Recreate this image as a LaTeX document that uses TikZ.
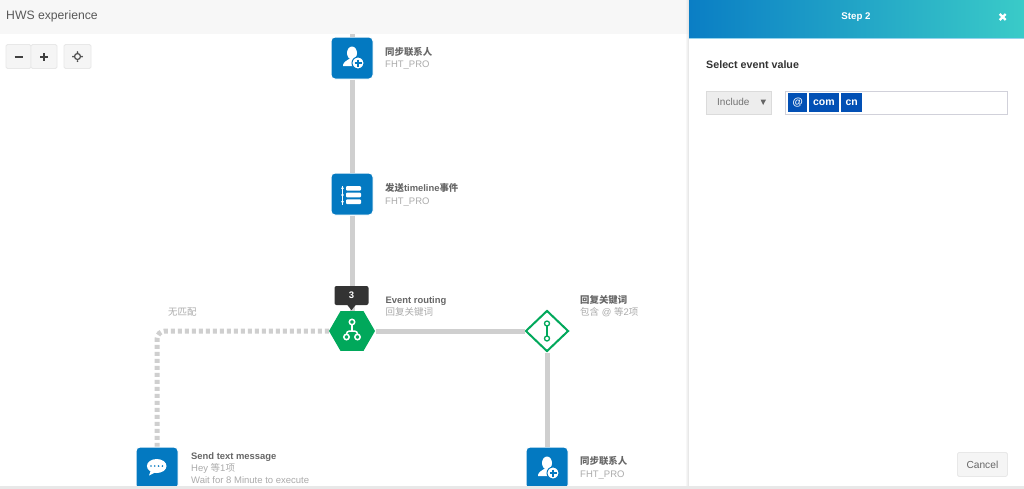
\documentclass[tikz,border=0pt]{standalone}
\usepackage{fontspec}
\setmainfont{Liberation Sans}
\newfontfamily\cjk{Noto Sans CJK SC}
\usetikzlibrary{shapes.geometric}
\definecolor{flowblue}{HTML}{0379C1}
\definecolor{flowgreen}{HTML}{01A85B}
\definecolor{linegray}{HTML}{CFCFCF}
\definecolor{titlegray}{HTML}{666666}
\definecolor{subgray}{HTML}{ABABAB}
\definecolor{tagblue}{HTML}{0250B5}
\definecolor{btnfill}{HTML}{F5F5F5}
\definecolor{btnline}{HTML}{E8E8E8}
\definecolor{headleft}{HTML}{0A7EC5}
\definecolor{headmid}{HTML}{29A6DC}
\definecolor{headright}{HTML}{3ACBC8}
\tikzset{
	pics/userplus/.style={code={
		\fill[white] (0,-5) ellipse (5pt and 6.5pt);
		\fill[white] (-9,7) .. controls (-8,3) and (-5,3) .. (-3,1) -- (3,1) .. controls (4,3) and (5,3) .. (6,5) -- (1,8) -- (-9,8) -- cycle;
		\fill[white,draw=flowblue,line width=1pt] (6,5) circle (6pt);
		\draw[flowblue,line width=1.4pt] (2.5,5) -- (9.5,5) (6,1.5) -- (6,8.5);
	}},
	pics/eventlist/.style={code={
		\foreach \rowy in {-5.7,1,7.7} {
			\fill[white,rounded corners=1pt] (-6,\rowy-2.3) rectangle (9,\rowy+2.3);
			\fill[white] (-9.5,\rowy) circle (1.4pt);
		}
		\draw[white,line width=0.7pt] (-9.5,-8) -- (-9.5,11);
	}},
	pics/chatbubble/.style={code={
		\fill[white] (-0.3,-2) ellipse (9.8pt and 7pt);
		\fill[white] (-6,2) -- (-8,7.5) -- (-1,4) -- cycle;
		\foreach \dotx in {-6,-2.2,1.6,5.4} \fill[flowblue] (\dotx,-2) circle (0.9pt);
	}},
	pics/branchtree/.style={code={
		\draw[white,line width=1.5pt,rounded corners=3pt] (-5.5,3.5) -- (-5.5,0) -- (5.5,0) -- (5.5,3.5);
		\draw[white,line width=1.5pt] (0,-6.2) -- (0,0);
		\draw[white,line width=1.5pt] (0,-9) circle (2.7pt) (-5.5,6) circle (2.7pt) (5.5,6) circle (2.7pt);
	}},
	pics/branchcase/.style={code={
		\draw[flowgreen,line width=1.3pt] (0,-5) -- (0,5);
		\draw[flowgreen,line width=1.3pt,fill=white] (0,-7.5) circle (2.5pt) (0,7.5) circle (2.5pt);
	}}
}
\begin{document}
\begin{tikzpicture}
		[x=1pt,y=-1pt,
		actionbox/.style={fill=flowblue,draw=white,line width=1pt,rounded corners=4pt,minimum size=42pt,inner sep=0pt},
		flowline/.style={draw=linegray,line width=5pt},
		dotline/.style={draw=linegray,line width=5pt,dash pattern=on 4pt off 3pt,rounded corners=8pt},
		titletext/.style={anchor=base west,inner sep=0pt,text=titlegray,font=\bfseries\fontsize{9.4}{11}\selectfont},
		subtext/.style={anchor=base west,inner sep=0pt,text=subgray,font=\fontsize{9.5}{11}\selectfont},
		greybtn/.style={fill=btnfill,draw=btnline,line width=0.8pt,rounded corners=1.5pt,inner sep=0pt,text=titlegray},
		tagbox/.style={fill=tagblue,text=white,inner sep=0pt,minimum height=19pt,font=\bfseries\fontsize{10.5}{12}\selectfont}]
		\useasboundingbox (0,0) rectangle (1024,488);
		\fill[white] (0,0) rectangle (1024,488);
		\fill[black!3] (0,0) rectangle (689,34);
		\node[anchor=base west,inner sep=0pt,text=black!65,font=\fontsize{12.2}{14}\selectfont] (flowname) at (6,19.5) {HWS experience};
		\node[greybtn,minimum width=25pt,minimum height=24pt] (zoomout) at (18.5,56.5) {};
		\node[greybtn,minimum width=26pt,minimum height=24pt] (zoomin) at (44,56.5) {};
		\node[greybtn,minimum width=27pt,minimum height=24pt] (recenter) at (77.5,56.5) {};
		\draw[black!75,line width=2pt] ([xshift=-4pt]zoomout.center) -- ([xshift=4pt]zoomout.center);
		\draw[black!75,line width=2pt] ([xshift=-4pt]zoomin.center) -- ([xshift=4pt]zoomin.center) ([yshift=-4pt]zoomin.center) -- ([yshift=4pt]zoomin.center);
		\draw[black!70,line width=1.2pt] (recenter.center) circle (3pt);
		\foreach \tickang in {0,90,180,270} \fill[black!70] (recenter.center) ++(\tickang:4.5pt) circle (1pt);

		\node[actionbox] (syncone) at (352,58) {};
		\node[actionbox] (timeline) at (352,194) {};
		\node[regular polygon,regular polygon sides=6,fill=flowgreen,minimum size=46pt,inner sep=0pt] (routing) at (352,331) {};
		\node[diamond,aspect=1,fill=white,draw=flowgreen,line width=2pt,minimum width=43pt,minimum height=41pt,inner sep=0pt] (keyword) at (547,331) {};
		\node[actionbox] (sendmsg) at (157,468) {};
		\node[actionbox] (synctwo) at (547,468) {};
		\coordinate (topstub) at (352,34);

		\draw[flowline] (topstub) -- (syncone);
		\draw[flowline] (syncone) -- (timeline);
		\draw[flowline] (timeline) -- (routing);
		\draw[flowline] ([xshift=1pt]routing.east) -- (keyword);
		\draw[flowline] (keyword) -- (synctwo);
		\draw[dotline] (routing.west) -| (sendmsg.north);

		\pic at (syncone) {userplus};
		\pic at (timeline) {eventlist};
		\pic at (routing) {branchtree};
		\pic at (keyword) {branchcase};
		\pic at (sendmsg) {chatbubble};
		\pic at (synctwo) {userplus};

		\node[fill=black!80,rounded corners=2pt,minimum width=34pt,minimum height=19pt,inner sep=0pt,text=white,font=\bfseries\fontsize{9.5}{11}\selectfont] (hitcount) at (351.5,295.5) {3};
		\fill[black!80] ([xshift=-4pt]hitcount.south) -- ([xshift=4pt]hitcount.south) -- ([yshift=-5pt]hitcount.south) -- cycle;

		\node[titletext] (synconetitle) at (385,55.5) {\cjk 同步联系人};
		\node[subtext] (synconesub) at (385,67) {FHT\_PRO};
		\node[titletext] (timelinetitle) at (385,191.5) {{\cjk 发送}timeline{\cjk 事件}};
		\node[subtext] (timelinesub) at (385,204) {FHT\_PRO};
		\node[titletext] (routingtitle) at (385.5,303) {Event routing};
		\node[subtext] (routingsub) at (385.5,315.5) {\cjk 回复关键词};
		\node[titletext] (keywordtitle) at (580,303) {\cjk 回复关键词};
		\node[subtext] (keywordsub) at (580,315.5) {{\cjk 包含} @ {\cjk 等}2{\cjk 项}};
		\node[subtext] (nomatch) at (168,315.5) {\cjk 无匹配};
		\node[titletext] (sendmsgtitle) at (191,459) {Send text message};
		\node[subtext] (sendmsgsub) at (191,471) {Hey {\cjk 等}1{\cjk 项}};
		\node[subtext] (sendmsgwait) at (191,483) {Wait for 8 Minute to execute};
		\node[titletext] (synctwotitle) at (580,464.5) {\cjk 同步联系人};
		\node[subtext] (synctwosub) at (580,477.5) {FHT\_PRO};

		\shade[left color=black!3,right color=black!12] (685,0) rectangle (689,34);
		\shade[left color=white,right color=black!12] (685,34) rectangle (689,486);
		\fill[white] (689,38) rectangle (1024,486);
		\shade[left color=headleft,middle color=headmid,right color=headright] (689,0) rectangle (1024,38);
		\fill[headmid!50] (689,38) rectangle (1024,39);
		\node[text=white,inner sep=0pt,font=\bfseries\fontsize{9.7}{11}\selectfont] (steptitle) at (856,17) {Step 2};
		\coordinate (closemark) at (1002.7,17);
		\draw[white,line width=2.2pt] ([xshift=-3pt,yshift=-3pt]closemark) -- ([xshift=3pt,yshift=3pt]closemark) ([xshift=-3pt,yshift=3pt]closemark) -- ([xshift=3pt,yshift=-3pt]closemark);
		\node[anchor=base west,inner sep=0pt,text=black!80,font=\bfseries\fontsize{10.7}{12}\selectfont] (selecttitle) at (706,68) {Select event value};

		\node[anchor=north west,fill=black!7,draw=black!14,line width=0.8pt,minimum width=65pt,minimum height=23pt,inner sep=0pt] (operator) at (706,91) {};
		\begin{scope}
			\clip (706,91) rectangle (748,114);
			\node[anchor=west,inner sep=0pt,text=black!55,font=\fontsize{10}{12}\selectfont] (operatortext) at (717,102) {Include};
		\end{scope}
		\fill[black!60] (760.5,99.5) -- (766,99.5) -- (763.2,105) -- cycle;
		\node[anchor=north west,fill=white,draw=blue!20!black!18,line width=0.8pt,minimum width=222pt,minimum height=23pt,inner sep=0pt] (valuebox) at (785,91) {};
		\node[tagbox,anchor=north west,minimum width=19pt] (tagat) at (788,93) {@};
		\node[tagbox,anchor=north west,minimum width=30pt] (tagcom) at (808.7,93) {com};
		\node[tagbox,anchor=north west,minimum width=21pt] (tagcn) at (841,93) {cn};

		\node[greybtn,anchor=north west,minimum width=50pt,minimum height=24pt,font=\fontsize{10.2}{12}\selectfont] (cancel) at (957,452) {Cancel};
		\fill[black!9] (0,486) rectangle (1024,492);
	\end{tikzpicture}
\end{document}
